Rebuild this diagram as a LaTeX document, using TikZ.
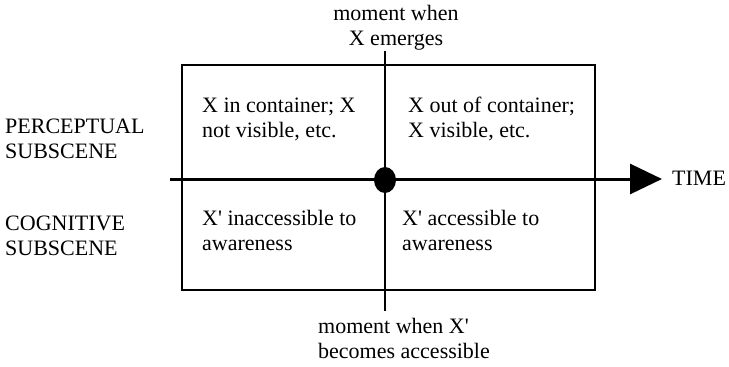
\documentclass[tikz,border=0pt]{standalone}
\usepackage{fontspec}
\setmainfont{Liberation Serif}
\usetikzlibrary{arrows.meta}
\tikzset{
  lbl/.style={font=\fontsize{22}{25}\selectfont, inner sep=0pt, align=left},
  ctr/.style={font=\fontsize{22}{25}\selectfont, inner sep=0pt, align=center}
}
\newcommand{\xprime}{X\textquotesingle}
\begin{document}
\begin{tikzpicture}[x=1pt,y=-1pt]
  \useasboundingbox (0,0) rectangle (729,367);
  % frame of the two subscenes
  \draw[line width=1.6pt] (182,65) rectangle (595,290);
  % moment line and time axis
  \coordinate (mtop) at (385,51);
  \coordinate (mbot) at (385,311);
  \coordinate (tstart) at (170,179);
  \coordinate (tend) at (662,179);
  \draw[line width=2pt] (mtop) -- (mbot);
  \draw[line width=3pt, -{Triangle[length=32pt,width=30pt]}] (tstart) -- (tend);
  \fill (385,180) ellipse (11 and 13);
  % labels
  \node[ctr, anchor=south] (emerge) at (396,50) {moment when\\X emerges};
  \node[lbl, anchor=north west] (access) at (318,318) {moment when \xprime\\becomes accessible};
  \node[lbl, anchor=west] (time) at (672,178) {TIME};
  \node[lbl, anchor=west] (percep) at (5,139) {PERCEPTUAL\\SUBSCENE};
  \node[lbl, anchor=west] (cognit) at (5,236) {COGNITIVE\\SUBSCENE};
  \node[lbl, anchor=west] (xin) at (202,119) {X in container; X\\not visible, etc.};
  \node[lbl, anchor=west] (xout) at (408,119) {X out of container;\\X visible, etc.};
  \node[lbl, anchor=west] (xinacc) at (202,230) {\xprime{} inaccessible to\\awareness};
  \node[lbl, anchor=west] (xacc) at (402,230) {\xprime{} accessible to\\awareness};
\end{tikzpicture}
\end{document}
